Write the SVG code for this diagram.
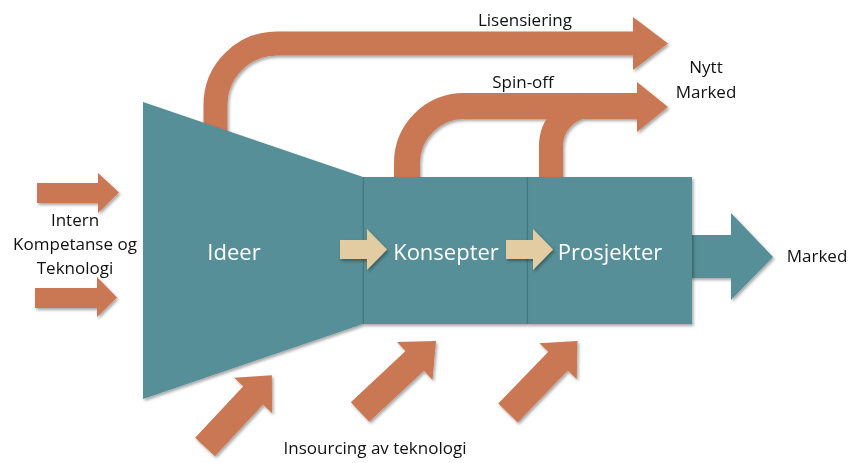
<svg xmlns="http://www.w3.org/2000/svg" width="849" height="463" viewBox="0 0 849 463">
  <defs>
    <filter id="shadow" x="-20%" y="-20%" width="140%" height="140%">
      <feDropShadow dx="1.5" dy="2" stdDeviation="1.5" flood-color="#000" flood-opacity="0.35"/>
    </filter>
    <!-- right-pointing block arrow, tail at origin, length 100 -->
    <polygon id="blockArrow" points="0,-13.5 72,-13.5 72,-26 100,0 72,26 72,13.5 0,13.5"/>
  </defs>
  <style>
    .teal { fill: #578F97; }
    .orange { fill: #CA7853; }
    .band { fill: none; stroke: #CA7853; stroke-width: 24; }
    .beige { fill: #E3CCA2; }
    .label { font-family: "Open Sans", "Liberation Sans", sans-serif; font-size: 17px; fill: #111; text-anchor: middle; }
    .stage { font-family: "Open Sans", "Liberation Sans", sans-serif; font-size: 22px; fill: #fff; text-anchor: middle; }
    .divider { stroke: #3E6E74; stroke-width: 1.2; opacity: 0.7; }
  </style>

  <!-- outgoing flows above the pipeline -->
  <g id="connectors">
    <g id="lisensiering-flow" filter="url(#shadow)">
      <path class="band" d="M215.5,140 L215.5,105 A61.5,61.5 0 0 1 277,43.5 L634,43.5"/>
      <polygon class="orange" points="633,17 668,43.5 633,70"/>
    </g>
    <g id="spinoff-flow" filter="url(#shadow)">
      <path class="band" style="stroke-width:26" d="M407,182 L407,163 A57,57 0 0 1 464,106 L638,106"/>
      <path class="band" d="M551,182 L551,146 A40,40 0 0 1 591,106 L638,106"/>
      <polygon class="orange" points="637,82 668,107 637,132"/>
    </g>
    <!-- output to market -->
    <polygon id="marked-flow" class="teal" filter="url(#shadow)" points="690,235 731,235 731,213 773,257 731,300 731,278 690,278"/>
    <!-- internal inputs -->
    <g id="intern-inputs" class="orange" filter="url(#shadow)">
      <polygon points="37,183 98,183 98,173 119,192.5 98,213 98,203 37,203"/>
      <polygon points="35,288 97,288 97,277 117,297.5 97,317 97,308 35,308"/>
    </g>
    <!-- insourcing inputs -->
    <g id="insourcing-inputs" class="orange" filter="url(#shadow)">
      <use href="#blockArrow" transform="translate(205,447) rotate(-47) scale(0.98,1)"/>
      <use href="#blockArrow" transform="translate(360,412) rotate(-43) scale(1.04,1)"/>
      <use href="#blockArrow" transform="translate(508,413) rotate(-46)"/>
    </g>
  </g>

  <!-- pipeline stages -->
  <g id="ideer">
    <polygon class="teal" filter="url(#shadow)" points="143,102 363,177 363,324 143,399"/>
    <text class="stage" x="234" y="260">Ideer</text>
  </g>
  <g id="konsepter">
    <rect class="teal" filter="url(#shadow)" x="363" y="177" width="164" height="147"/>
    <line class="divider" x1="363.5" y1="177" x2="363.5" y2="324"/>
    <text class="stage" x="446" y="260">Konsepter</text>
  </g>
  <g id="prosjekter">
    <rect class="teal" filter="url(#shadow)" x="527" y="177" width="165" height="147"/>
    <line class="divider" x1="527.5" y1="177" x2="527.5" y2="324"/>
    <text class="stage" x="610" y="260">Prosjekter</text>
  </g>

  <!-- stage transitions -->
  <g id="stage-arrows" class="beige" filter="url(#shadow)">
    <polygon points="340,240 367,240 367,229 387,249.5 367,270 367,259 340,259"/>
    <polygon points="506,240 533,240 533,229 553,249.5 533,270 533,259 506,259"/>
  </g>

  <!-- labels -->
  <g id="labels">
    <text class="label" x="525" y="26">Lisensiering</text>
    <text class="label" x="523" y="88">Spin-off</text>
    <text class="label" x="706" y="73">Nytt</text>
    <text class="label" x="706" y="98">Marked</text>
    <text class="label" x="817" y="262">Marked</text>
    <text class="label" x="75" y="226">Intern</text>
    <text class="label" x="75" y="250">Kompetanse og</text>
    <text class="label" x="75" y="274">Teknologi</text>
    <text class="label" x="375" y="454">Insourcing av teknologi</text>
  </g>
</svg>
